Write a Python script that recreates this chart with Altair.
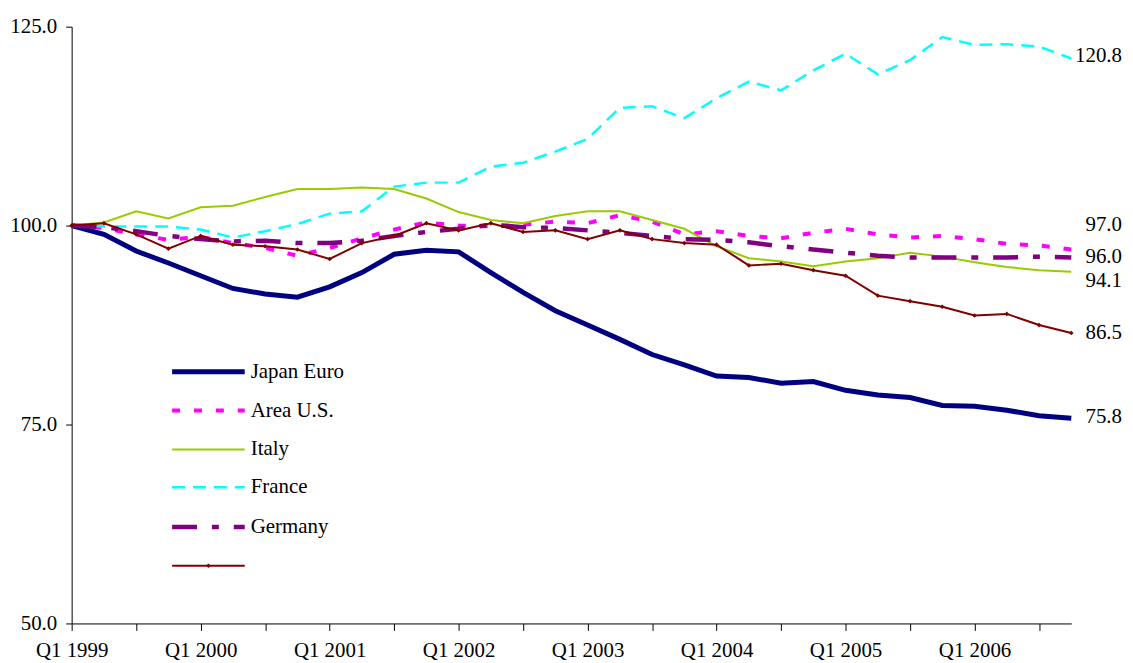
import altair as alt
import pandas as pd

quarters = [f"Q{q} {y}" for y in range(1999, 2007) for q in range(1, 5)]

japan = [100.0, 98.9, 96.8, 95.3, 93.7, 92.1, 91.4, 91.0, 92.3, 94.1, 96.4, 96.9,
         96.7, 94.1, 91.6, 89.3, 87.5, 85.7, 83.8, 82.5, 81.1, 80.9, 80.2, 80.4,
         79.3, 78.7, 78.4, 77.4, 77.3, 76.8, 76.1, 75.8]
euro_area = [100.0, 99.7, 98.9, 98.2, 98.6, 97.8, 97.2, 96.2, 97.2, 98.4, 99.5, 100.4,
             100.0, 99.9, 100.1, 100.5, 100.3, 101.3, 100.5, 98.9, 99.3, 98.7, 98.4, 99.1,
             99.6, 98.9, 98.5, 98.7, 98.3, 97.7, 97.5, 97.0]
us = [100.0, 100.4, 101.8, 100.9, 102.3, 102.5, 103.6, 104.6, 104.6, 104.8, 104.6, 103.4,
      101.7, 100.7, 100.3, 101.2, 101.8, 101.8, 100.7, 99.6, 97.4, 95.9, 95.5, 94.9,
      95.5, 95.9, 96.6, 96.1, 95.4, 94.8, 94.4, 94.2]
italy = [100.0, 99.9, 99.9, 99.9, 99.5, 98.5, 99.3, 100.2, 101.5, 101.8, 104.9, 105.4,
         105.4, 107.4, 107.9, 109.3, 110.9, 114.8, 115.0, 113.5, 116.0, 118.1, 117.0, 119.5,
         121.6, 119.0, 120.8, 123.7, 122.7, 122.8, 122.5, 121.0]
france = [100.0, 99.8, 99.3, 98.7, 98.3, 98.0, 98.1, 97.8, 97.8, 98.1, 98.7, 99.2,
          99.6, 100.1, 99.8, 99.7, 99.4, 99.1, 98.7, 98.3, 98.2, 97.9, 97.4, 97.0,
          96.6, 96.2, 96.0, 96.0, 96.0, 96.0, 96.1, 96.0]
germany = [100.0, 100.3, 98.9, 97.1, 98.7, 97.6, 97.4, 97.0, 95.8, 97.8, 98.7, 100.3,
           99.4, 100.3, 99.2, 99.4, 98.3, 99.4, 98.3, 97.8, 97.6, 95.0, 95.2, 94.4,
           93.7, 91.2, 90.5, 89.8, 88.7, 88.9, 87.5, 86.5]

series_keys = ["Japan", "Euro Area", "U.S.", "Italy", "France", "Germany"]
series_values = [japan, euro_area, us, italy, france, germany]

legend_labels = ["Japan Euro", "Area U.S.", "Italy", "France", "Germany", ""]

end_labels = ["120.8", "97.0", "96.0", "94.1", "86.5", "75.8"]
end_label_y = [121.3, 100.1, 96.1, 93.0, 86.55, 75.9]

y_ticks = [50, 75, 100, 125]

styles = {
    "Japan": dict(color="#000080", strokeWidth=5),
    "Euro Area": dict(color="#FF00FF", strokeWidth=4, strokeDash=[8, 14]),
    "U.S.": dict(color="#99CC00", strokeWidth=2),
    "Italy": dict(color="#00FFFF", strokeWidth=2.5, strokeDash=[13, 8]),
    "France": dict(color="#800080", strokeWidth=4.5, strokeDash=[25, 15, 7, 15]),
    "Germany": dict(color="#800000", strokeWidth=2),
}

FONT = "Liberation Serif"
FS = 21

rows = []
for key, vals in zip(series_keys, series_values):
    for i, v in enumerate(vals):
        rows.append({"series": key, "idx": i, "quarter": quarters[i], "value": v})
df = pd.DataFrame(rows)

label_array = "[" + ",".join("'" + (q if q.startswith("Q1") else "") + "'" for q in quarters) + "]"

x_enc = alt.X(
    "idx:Q",
    scale=alt.Scale(domain=[0, len(quarters) - 1], nice=False, zero=False),
    axis=alt.Axis(
        values=list(range(0, len(quarters), 2)),
        labelExpr=label_array + "[datum.value]",
        labelAngle=0,
        labelOverlap=False,
        labelFlush=False,
        labelBound=False,
        title=None,
        tickSize=7,
        labelPadding=9,
        labelBaseline="top",
    ),
)
y_enc = alt.Y(
    "value:Q",
    scale=alt.Scale(domain=[50, 125], nice=False, zero=False),
    axis=alt.Axis(values=y_ticks, format=".1f", title=None, tickSize=6, labelPadding=9,
                  labelFlush=False, labelOverlap=False),
)

layers = []
for key in series_keys:
    st = styles[key]
    kw = dict(st)
    if key == "Germany":
        kw["point"] = alt.OverlayMarkDef(shape="diamond", size=22, filled=True, color=st["color"])
    layers.append(
        alt.Chart(df[df["series"] == key]).mark_line(**kw).encode(x=x_enc, y=y_enc)
    )

# end labels
lab_df = pd.DataFrame({"idx": [len(quarters) - 1] * len(end_labels), "value": end_label_y, "label": end_labels})
layers.append(
    alt.Chart(lab_df).mark_text(align="right", baseline="middle", dx=51, font=FONT, fontSize=FS, color="black")
    .encode(x=x_enc, y=y_enc, text="label:N")
)

# manual legend
one = pd.DataFrame({"a": [0]})
leg_x0, leg_x1, leg_tx = 101, 174, 180
leg_rows = [347, 386, 425, 463, 503, 542]
for key, lab, ly in zip(series_keys, legend_labels, leg_rows):
    st = styles[key]
    rk = dict(color=st["color"], strokeWidth=st["strokeWidth"])
    if "strokeDash" in st:
        rk["strokeDash"] = st["strokeDash"]
    layers.append(
        alt.Chart(one).mark_rule(**rk).encode(
            x=alt.value(leg_x0), x2=alt.value(leg_x1), y=alt.value(ly)
        )
    )
    if lab:
        layers.append(
            alt.Chart(one).mark_text(align="left", baseline="middle", font=FONT, fontSize=FS, color="black")
            .encode(x=alt.value(leg_tx), y=alt.value(ly), text=alt.value(lab))
        )
layers.append(
    alt.Chart(one).mark_point(shape="diamond", size=22, filled=True, color="#800000", opacity=1)
    .encode(x=alt.value((leg_x0 + leg_x1) / 2), y=alt.value(leg_rows[-1]))
)

chart = (
    alt.layer(*layers)
    .properties(
        width=1005,
        height=600,
        padding={"left": 64, "top": 17, "right": 54, "bottom": 38},
        autosize=alt.AutoSizeParams(type="none"),
    )
    .configure_view(stroke=None)
    .configure_axis(
        grid=False,
        domainColor="black",
        tickColor="black",
        labelColor="black",
        labelFont=FONT,
        labelFontSize=FS,
        domainWidth=1,
    )
)

chart.save("out.html", embed_options={"renderer": "svg", "actions": False})
